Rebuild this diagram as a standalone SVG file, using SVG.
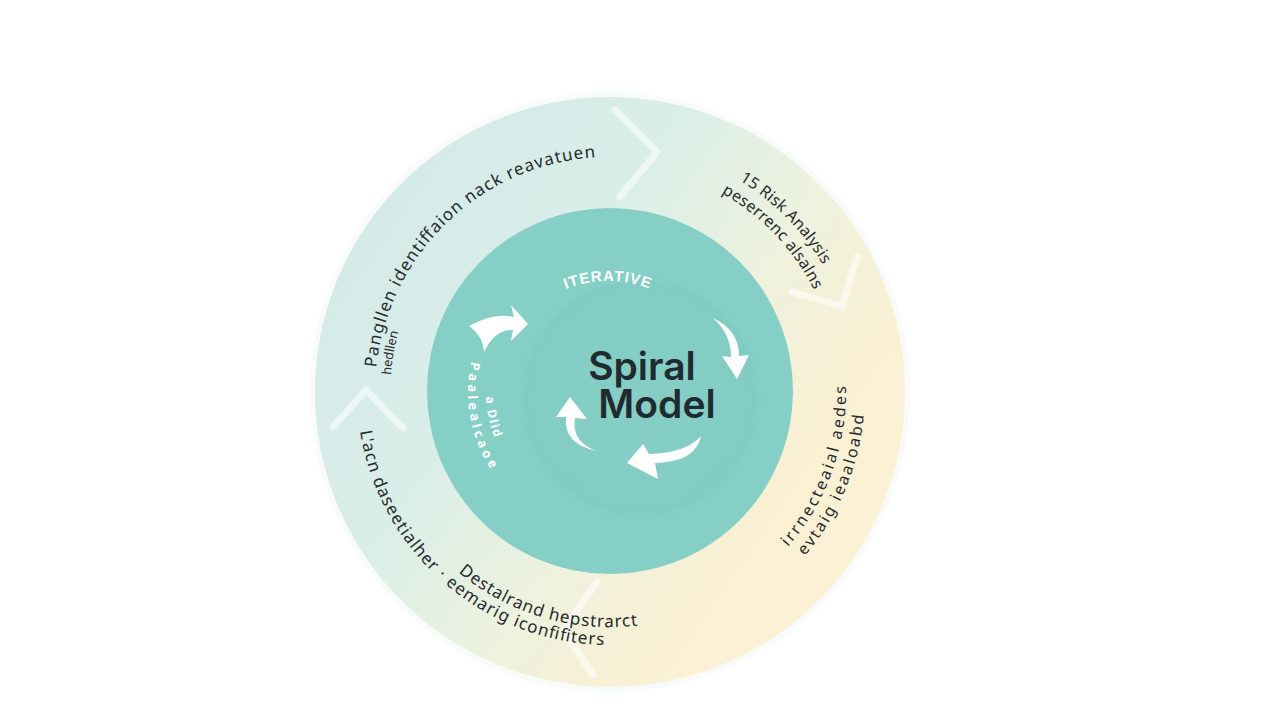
<svg xmlns="http://www.w3.org/2000/svg" width="1280" height="720" viewBox="0 0 1280 720">
  <defs>
    <linearGradient id="ringGrad" x1="340" y1="200" x2="870" y2="570" gradientUnits="userSpaceOnUse">
      <stop offset="0" stop-color="#d3eae8"/>
      <stop offset="0.35" stop-color="#daeee8"/>
      <stop offset="0.6" stop-color="#eef2de"/>
      <stop offset="0.82" stop-color="#faf0d3"/>
      <stop offset="1" stop-color="#fcf1d6"/>
    </linearGradient>
    <radialGradient id="coreGrad" cx="640" cy="398" r="125" gradientUnits="userSpaceOnUse">
      <stop offset="0" stop-color="#86cec5"/>
      <stop offset="0.8" stop-color="#83cdc4"/>
      <stop offset="0.92" stop-color="#80cbc2"/>
      <stop offset="1" stop-color="#85cfc6" stop-opacity="0"/>
    </radialGradient>
    <path id="p_tl" d="M375.6,375.6 A235,235 0 0 1 618.2,157.1"/>
    <path id="p_hd" d="M390.8,377 A220,220 0 0 1 403.3,316.8"/>
    <path id="p_tr1" d="M734,177.2 A248,248 0 0 1 834.8,287.2"/>
    <path id="p_tr2" d="M717,190.7 A228,228 0 0 1 819.9,302.9"/>
    <path id="p_r1" d="M779.8,555.9 A236,236 0 0 0 845.1,371.4"/>
    <path id="p_r2" d="M796.2,565.7 A255,255 0 0 0 864.7,378.7"/>
    <path id="p_b1" d="M449.4,564.3 A235,235 0 0 0 658.9,621.9"/>
    <path id="p_b2" d="M358.4,418.4 A253,253 0 0 0 627.6,644.4"/>
    <path id="p_il1" d="M473.5,352.9 A142,142 0 0 0 501.2,483.3"/>
    <path id="p_il2" d="M486.1,387.7 A124,124 0 0 0 502.6,454"/>
    <path id="p_it" d="M542.6,301.6 A114,114 0 0 1 673.4,301.6"/>
    <style>
      .lbl { font-family: "Noto Sans", "DejaVu Sans", sans-serif; fill: #262b2e; }
      .wlbl { font-family: "Noto Sans", "DejaVu Sans", sans-serif; fill: #ffffff; font-weight: 700; }
      .chev { fill: none; stroke: #ffffff; stroke-width: 7; stroke-linecap: round; stroke-linejoin: round; opacity: 0.55; }
      .warrow { fill: #ffffff; }
    </style>
  </defs>

  <rect width="1280" height="720" fill="#ffffff"/>

  <g id="outer-ring">
    <circle cx="610" cy="392" r="300" fill="#f5f8f7" opacity="0.6"/>
    <circle cx="610" cy="392" r="295" fill="url(#ringGrad)"/>
  </g>

  <g id="core">
    <circle cx="610" cy="391" r="183" fill="#85cfc6"/>
    <circle cx="640" cy="398" r="125" fill="url(#coreGrad)"/>
  </g>

  <g id="connectors">
    <path class="chev" d="M615,110 L657,152 L620,197"/>
    <path class="chev" d="M792,292 L842,306 L857,257"/>
    <path class="chev" d="M333,427 L366,390 L403,428"/>
    <path class="chev" d="M597,582 L563,630 L593,675"/>
    <path class="warrow" d="M469,326 Q494,312 514,317 L511,305 L528,324 L511,341 L513,330 Q495,329 484,352 Q483,336 469,326 Z"/>
    <path class="warrow" d="M713,318 Q739,330 739,356 L749,355 L737,379 L722,356 L731,357 Q731,334 713,318 Z"/>
    <path class="warrow" d="M701,436 Q696,462 655,463 L658,479 L627,463 L643,444 L649,454 Q686,453 701,436 Z"/>
    <path class="warrow" d="M597,451 Q571,442 575,418 L587,419 L570,397 L556,417 L566,417 Q563,444 597,451 Z"/>
  </g>

  <g id="label-top-left">
    <text class="lbl" font-size="17"><textPath href="#p_tl" startOffset="8" textLength="330" lengthAdjust="spacing">Pangllen identiffaion nack reavatuen</textPath></text>
    <text class="lbl" font-size="13"><textPath href="#p_hd" startOffset="2" textLength="44" lengthAdjust="spacingAndGlyphs">hedllen</textPath></text>
  </g>

  <g id="label-top-right">
    <text class="lbl" font-size="16"><textPath href="#p_tr1" startOffset="6" textLength="120" lengthAdjust="spacing">15 Risk Analysis</textPath></text>
    <text class="lbl" font-size="16"><textPath href="#p_tr2" startOffset="5" textLength="136" lengthAdjust="spacing">peserrenc alsalns</textPath></text>
  </g>

  <g id="label-right">
    <text class="lbl" font-size="16"><textPath href="#p_r1" startOffset="12" textLength="175" lengthAdjust="spacing">irrnecteaial aedes</textPath></text>
    <text class="lbl" font-size="16"><textPath href="#p_r2" startOffset="13" textLength="155" lengthAdjust="spacing">evtaig ieaaloabd</textPath></text>
  </g>

  <g id="label-bottom">
    <text class="lbl" font-size="17"><textPath href="#p_b1" startOffset="12" textLength="192" lengthAdjust="spacing">Destalrand hepstrarct</textPath></text>
    <text class="lbl" font-size="17"><textPath href="#p_b2" startOffset="13" textLength="352" lengthAdjust="spacing">L'acn daseetialher · eemarig iconfifiters</textPath></text>
  </g>

  <g id="label-inner-left">
    <text class="wlbl" font-size="13"><textPath href="#p_il1" startOffset="9" textLength="112" lengthAdjust="spacing">Paalealcaoe</textPath></text>
    <text class="wlbl" font-size="12"><textPath href="#p_il2" startOffset="9" textLength="42" lengthAdjust="spacing">a Dlid</textPath></text>
  </g>

  <g id="label-iterative">
    <text class="wlbl" font-size="15" letter-spacing="1" text-anchor="middle" style="font-family: 'Liberation Sans', Arial, sans-serif;"><textPath href="#p_it" startOffset="50%">ITERATIVE</textPath></text>
  </g>

  <g id="title">
    <text x="642" y="380" text-anchor="middle" font-family="Inter, 'Noto Sans', sans-serif" font-weight="600" font-size="39" fill="#1f2b2e">Spiral</text>
    <text x="657" y="418" text-anchor="middle" font-family="Inter, 'Noto Sans', sans-serif" font-weight="600" font-size="39" fill="#1f2b2e">Model</text>
  </g>
</svg>
